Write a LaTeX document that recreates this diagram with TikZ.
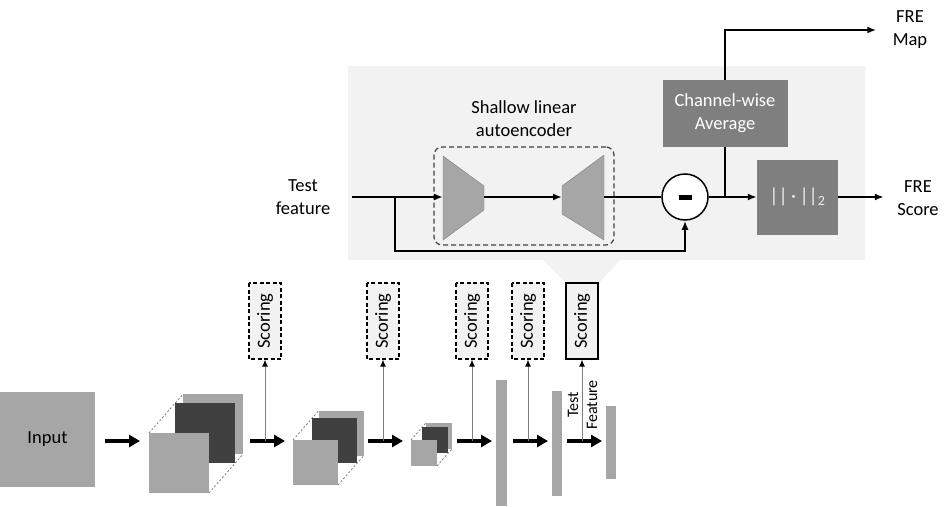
\documentclass[tikz,border=0pt]{standalone}
\usepackage{fontspec}
\setmainfont{Carlito}
\usepackage{tikz}
\usetikzlibrary{arrows.meta,positioning,calc}
\definecolor{panelgray}{HTML}{F2F2F2}
\definecolor{midgray}{HTML}{A6A6A6}
\definecolor{boxgray}{HTML}{7F7F7F}
\definecolor{deepgray}{HTML}{404040}
\tikzset{>={Latex[length=9pt,width=7pt]}}
\tikzset{
    flow/.style={line width=2pt},
    fat/.style={line width=4pt, -{Triangle[length=11pt,width=12pt]}},
    probe/.style={line width=1pt, draw=boxgray, -{Latex[length=7pt,width=6pt,color=black]}},
    scorebox/.style={draw, line width=1.3pt, fill=panelgray, rotate=90, minimum width=76pt, minimum height=32pt, inner sep=0pt},
    graybox/.style={fill=boxgray, text=white, align=center, inner sep=0pt},
}
% front square at (#1,#2), side #3, with dark and light squares behind it
\newcommand{\featcube}[3]{
    \draw[boxgray, line width=0.8pt, dash pattern=on 2pt off 2pt] (#1,#2) -- ++({0.57*#3},{-0.65*#3});
    \draw[boxgray, line width=0.8pt, dash pattern=on 2pt off 2pt] ({#1+#3},{#2+#3}) -- ++({0.57*#3},{-0.65*#3});
    \fill[midgray] ({#1+0.57*#3},{#2-0.65*#3}) rectangle ++(#3,#3);
    \fill[deepgray] ({#1+0.43*#3},{#2-0.5*#3}) rectangle ++(#3,#3);
    \fill[midgray] (#1,#2) rectangle ++(#3,#3);
}

\begin{document}
\begin{tikzpicture}[x=1pt, y=-1pt, font=\fontsize{18.5}{23}\selectfont]
    \useasboundingbox (0,0) rectangle (952,506);
    \fill[panelgray] (348,66) -- (865,66) -- (865,260) -- (620,260) -- (599,283) -- (566,283) -- (543,260) -- (348,260) -- cycle; % zoomed panel

    \node[align=center] (tf) at (303,197) {Test\\feature};
    \node[align=center] (aetext) at (524,119) {Shallow linear\\autoencoder};
    \node[draw=deepgray, line width=1.2pt, dash pattern=on 5pt off 3pt, rounded corners=8pt, minimum width=180pt, minimum height=98pt] (ae) at (524,196) {};
    \fill[midgray, draw=boxgray] (443,156) -- (484,186) -- (484,210) -- (443,240) -- cycle; % encoder
    \fill[midgray, draw=boxgray] (562,186) -- (604,155) -- (604,240) -- (562,214) -- cycle; % decoder
    \node[draw, circle, fill=white, line width=1.5pt, minimum size=46pt, inner sep=0pt] (minus) at (685,197) {\rule{13pt}{5pt}};
    \node[graybox, minimum width=125pt, minimum height=67pt] (chan) at (725,113.5) {Channel-wise\\Average};
    \node[graybox, minimum width=81pt, minimum height=75pt, text=white!85!boxgray, font=\fontsize{20}{24}\selectfont] (norm) at (797.5,197) {||\,·\,||\textsubscript{2}};
    \node[align=center] (map) at (910,30) {FRE\\Map};
    \node[align=center] (score) at (918,198) {FRE\\Score};

    \coordinate (in) at (352,197);
    \coordinate (split) at (395,197);
    \coordinate (encin) at (443,197);
    \coordinate (encout) at (484,197);
    \coordinate (decin) at (562,197);
    \coordinate (decout) at (604,197);
    \coordinate (join) at (725,197);
    \coordinate (loop) at (395,251);

    \draw[flow, ->] (in) -- (encin);
    \draw[flow, ->] (encout) -- (decin);
    \draw[flow] (decout) -- (minus);
    \draw[flow, ->] (minus) -- (norm);
    \draw[flow, ->] (split) -- (loop) -| (minus.south);
    \draw[flow] (join) -- (chan.south);
    \draw[flow, ->] (chan.north) |- ([xshift=-13pt]map.west);
    \draw[flow, ->] (norm) -- ([xshift=-10pt]score.west |- norm);

    % backbone
    \node[fill=midgray, minimum size=95pt, inner sep=0pt] (input) at (47.5,439.5) {Input};
    \featcube{149}{433}{60}
    \featcube{293}{440}{45}
    \featcube{411}{440}{26}
    \fill[midgray] (496,380) rectangle (507,506);
    \fill[midgray] (552,391) rectangle (562,496);
    \fill[midgray] (606,406) rectangle (616,479);

    \coordinate (s0) at (105,441);
    \coordinate (e0) at (140,441);
    \draw[fat] (s0) -- (e0);
    \foreach \x/\i in {250/1,368/2,457/3,513/4,567/5} {
        \coordinate (s\i) at (\x,441);
        \coordinate (e\i) at (\x+35,441);
        \coordinate (p\i) at (\x+15,441);
        \ifnum\i=5
            \node[scorebox, draw=black] (sc\i) at (\x+15,321) {Scoring}; % the one shown above
        \else
            \node[scorebox, dash pattern=on 4pt off 2.5pt] (sc\i) at (\x+15,321) {Scoring};
        \fi
        \draw[fat] (s\i) -- (e\i);
        \draw[probe] (p\i) -- (sc\i);
    }
    \node[rotate=90, align=center, font=\fontsize{16}{19}\selectfont] (tfl) at (582.5,405) {Test\\Feature};
\end{tikzpicture}
\end{document}
